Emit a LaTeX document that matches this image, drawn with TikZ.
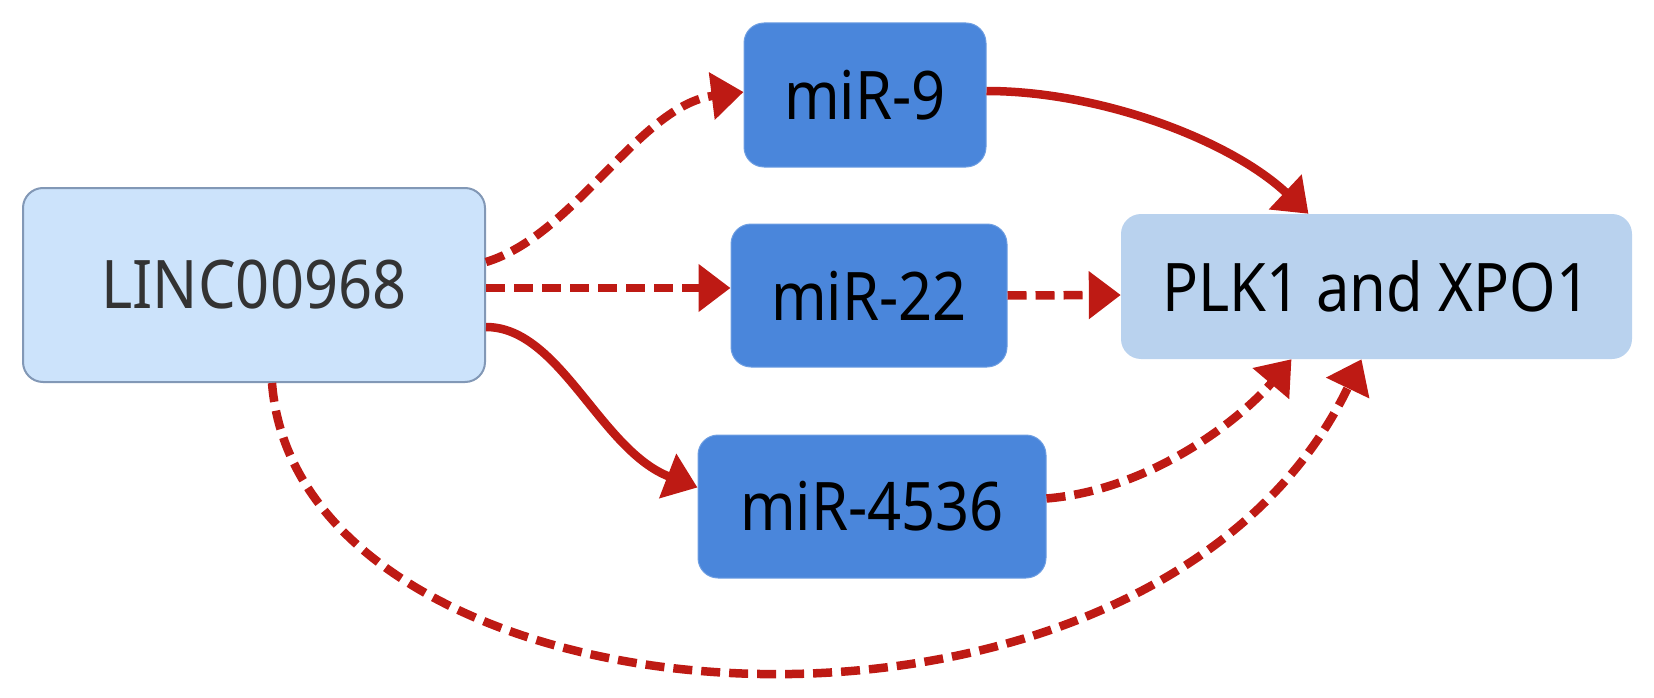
\documentclass[tikz,border=0pt]{standalone}
\usepackage{fontspec}
\setmainfont{Noto Sans}
\usetikzlibrary{arrows.meta}
\definecolor{lincfill}{HTML}{CCE3FB}
\definecolor{lincdraw}{HTML}{8298B6}
\definecolor{mirfill}{HTML}{4A86DB}
\definecolor{plkfill}{HTML}{B9D2EE}
\definecolor{arr}{HTML}{BE1A14}
\newcommand{\nt}[1]{\scalebox{0.89}[1]{#1}}
\tikzset{
  nodebox/.style={rectangle, rounded corners=20pt, inner sep=0pt, font=\fontsize{67}{70}\selectfont},
  lincbox/.style={nodebox, fill=lincfill, draw=lincdraw, line width=2pt, text=black!80},
  mirbox/.style={nodebox, fill=mirfill, draw=mirfill!80!white, line width=1pt, text=black},
  plkbox/.style={nodebox, fill=plkfill, text=black},
  link/.style={draw=arr, line width=8.5pt, -{Triangle[length=32pt,width=46pt]}},
  dlink/.style={link, dash pattern=on 19pt off 9pt},
}
\begin{document}
\begin{tikzpicture}[x=1pt,y=-1pt]
\useasboundingbox (0,0) rectangle (1654,698);
\node[lincbox, minimum width=462pt, minimum height=194pt] (linc) at (254,285) {\nt{LINC00968}};
\node[mirbox, minimum width=242pt, minimum height=144pt] (mir9) at (865,95) {\nt{miR-9}};
\node[mirbox, minimum width=276pt, minimum height=143pt] (mir22) at (869,295.5) {\nt{miR-22}};
\node[mirbox, minimum width=348pt, minimum height=143pt] (mir4536) at (872,506.5) {\nt{miR-4536}};
\node[plkbox, minimum width=511pt, minimum height=145pt] (plk) at (1376.5,286.5) {\nt{PLK1 and XPO1}};
% LINC -> miR-9
\draw[dlink] ([yshift=23pt]linc.east) .. controls (575,235) and (640,105) .. ([yshift=3pt]mir9.west);
% LINC -> miR-22
\draw[dlink] ([yshift=-3pt]linc.east) -- ([yshift=7.5pt]mir22.west);
% LINC -> miR-4536
\draw[link] ([yshift=-42pt]linc.east) .. controls (560,327) and (600,450) .. ([yshift=19pt]mir4536.west);
% miR-9 -> PLK
\draw[link] ([yshift=4pt]mir9.east) .. controls (1100,91) and (1230,140) .. ([xshift=-68pt]plk.north);
% miR-22 -> PLK
\draw[dlink] (mir22.east) -- ([yshift=-8.5pt]plk.west);
% miR-4536 -> PLK
\draw[dlink] ([yshift=8pt]mir4536.east) .. controls (1150,490) and (1240,420) .. ([xshift=-85pt]plk.south);
% LINC -> PLK
\draw[dlink] ([xshift=18pt]linc.south) .. controls (300,740) and (1150,800) .. ([xshift=-15pt]plk.south);
\end{tikzpicture}
\end{document}
